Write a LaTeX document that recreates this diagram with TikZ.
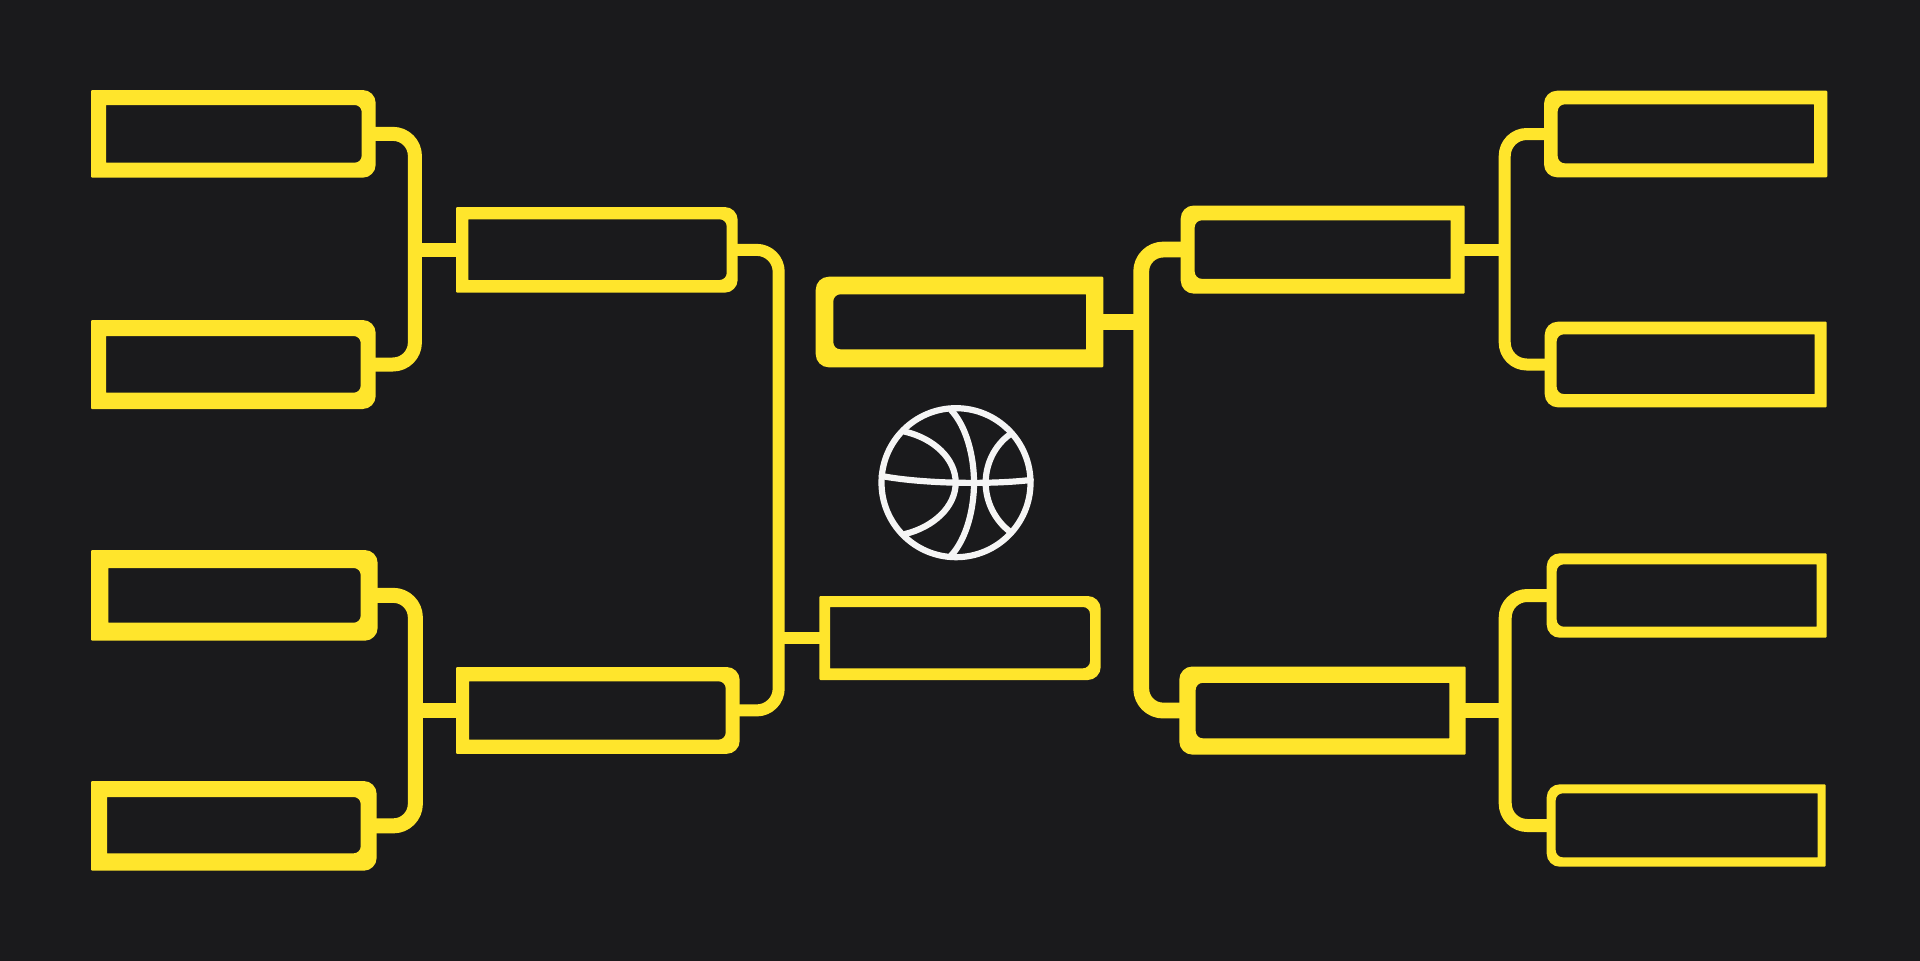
\documentclass[tikz,border=0pt]{standalone}
\definecolor{bgc}{HTML}{1A1A1C}
\definecolor{yel}{HTML}{FFE52C}
\definecolor{ballc}{HTML}{F5F5F5}
\tikzset{
  slotanchor/.style={rectangle,inner sep=0pt,outer sep=0pt,draw=none,fill=none},
  bracket/.style={draw=yel,line width=#1*0.5pt,line cap=butt,line join=round,rounded corners=11pt,shorten <=-1pt,shorten >=-1pt},
  stem/.style={draw=yel,line width=#1*0.5pt,line cap=butt,shorten <=-1pt,shorten >=-1pt},
  ballline/.style={draw=ballc,line width=3.1pt,line cap=round}
}
% rounded rectangle path: x1,y1,x2,y2, left radius, right radius
\newcommand{\rrp}[6]{({#1+#5},#2) -- ({#3-#6},#2) .. controls ({#3-.45*#6},#2) and (#3,{#2+.45*#6}) .. (#3,{#2+#6}) -- (#3,{#4-#6}) .. controls (#3,{#4-.45*#6}) and ({#3-.45*#6},#4) .. ({#3-#6},#4) -- ({#1+#5},#4) .. controls ({#1+.45*#5},#4) and (#1,{#4-.45*#5}) .. (#1,{#4-#5}) -- (#1,{#2+#5}) .. controls (#1,{#2+.45*#5}) and ({#1+.45*#5},#2) .. ({#1+#5},#2) -- cycle}
\newcommand{\roundR}{\def\ol{1}\def\oR{13}\def\il{0.3}\def\iR{7}}
\newcommand{\roundL}{\def\ol{13}\def\oR{1}\def\il{7}\def\iR{0.3}}
\newcommand{\slot}[9]{%
  \fill[yel,even odd rule] \rrp{#2}{#3}{#4}{#5}{\ol}{\oR} \rrp{#6}{#7}{#8}{#9}{\il}{\iR};
  \node[slotanchor,minimum width={(#4-#2)*0.5pt},minimum height={(#5-#3)*0.5pt}] (#1) at ({(#2+#4)/2},{(#3+#5)/2}) {};
}
\begin{document}
\begin{tikzpicture}[x=0.5pt,y=-0.5pt]
\useasboundingbox (0,0) rectangle (1920,960);
\fill[bgc] (-6,-6) rectangle (1926,966);

% column x positions of the bracket spines
\coordinate (mA) at (414.9,250);
\coordinate (mB) at (415.35,710);
\coordinate (mC) at (778.7,480);
\coordinate (mD) at (1141.2,480);
\coordinate (mE) at (1504.7,250);
\coordinate (mF) at (1505.2,710);

\roundR
\slot{aa}{91}{90}{375.7}{177.7}{106}{105}{361.7}{162.7}
\slot{ab}{91}{320}{375.7}{409}{106}{336}{360.7}{392.7}
\slot{ac}{91}{550}{377.7}{640.7}{108.3}{568}{360.7}{622.7}
\slot{ad}{91}{781}{376.7}{870.7}{107}{797}{360.7}{853.3}
\slot{ba}{456}{207}{737.7}{292.7}{468.3}{219.3}{726.7}{280}
\slot{bb}{456}{667}{739.7}{753.8}{469}{681.3}{725.7}{739.6}
\slot{fb}{819.3}{596}{1100.7}{680}{830}{607}{1090}{668.3}
\roundL
\slot{fa}{815.7}{276.7}{1103.3}{367.3}{833.3}{294.3}{1086}{349.3}
\slot{sa}{1180.7}{205.5}{1464.7}{293.6}{1194.7}{220.3}{1450.7}{278.8}
\slot{sb}{1179.3}{666.5}{1465.7}{754.6}{1195.7}{682.8}{1449.3}{738.3}
\slot{ra}{1544}{90.7}{1827.3}{177.3}{1557.7}{104.3}{1814}{163.3}
\slot{rb}{1544.7}{321.7}{1826.7}{407.3}{1556.7}{334.3}{1814.7}{394}
\slot{rc}{1546.7}{553.3}{1826.7}{637.7}{1556.7}{564.3}{1816.7}{626.7}
\slot{rd}{1546.7}{784.3}{1825.7}{866.7}{1555.7}{793.3}{1817.7}{857.3}

% connectors
\draw[bracket=14] (aa.east) -| (mA) |- (ab.east);
\draw[stem=14.4] (ba.west) -- (ba.west -| mA);
\draw[bracket=15] (ac.east) -| (mB) |- (ad.east);
\draw[stem=15] (bb.west) -- (bb.west -| mB);
\draw[bracket=12] (ba.east) -| (mC) |- (bb.east);
\draw[stem=12.3] (fb.west) -- (fb.west -| mC);
\draw[bracket=15.8] (sa.west) -| (mD) |- (sb.west);
\draw[stem=16] (fa.east) -- (fa.east -| mD);
\draw[bracket=12] (ra.west) -| (mE) |- (rb.west);
\draw[stem=12] (sa.east) -- (sa.east -| mE);
\draw[bracket=13] (rc.west) -| (mF) |- (rd.west);
\draw[stem=14.4] (sb.east) -- (sb.east -| mF);

% basketball
\begin{scope}[shift={(780,250)},x=0.16667pt,y=-0.16667pt]
\draw[ballline] (528,698) circle[radius=223.5];
\draw[ballline] (305,678) .. controls (420,700) and (620,705) .. (752,690);
\draw[ballline] (513,480) .. controls (560,530) and (582,620) .. (582,698) .. controls (582,776) and (560,866) .. (513,917);
\draw[ballline] (375,545) .. controls (460,565) and (527,625) .. (527,698) .. controls (527,771) and (460,831) .. (375,852);
\draw[ballline] (690,553) .. controls (645,585) and (617,640) .. (617,698) .. controls (617,756) and (645,811) .. (690,845);
\end{scope}
\end{tikzpicture}
\end{document}
